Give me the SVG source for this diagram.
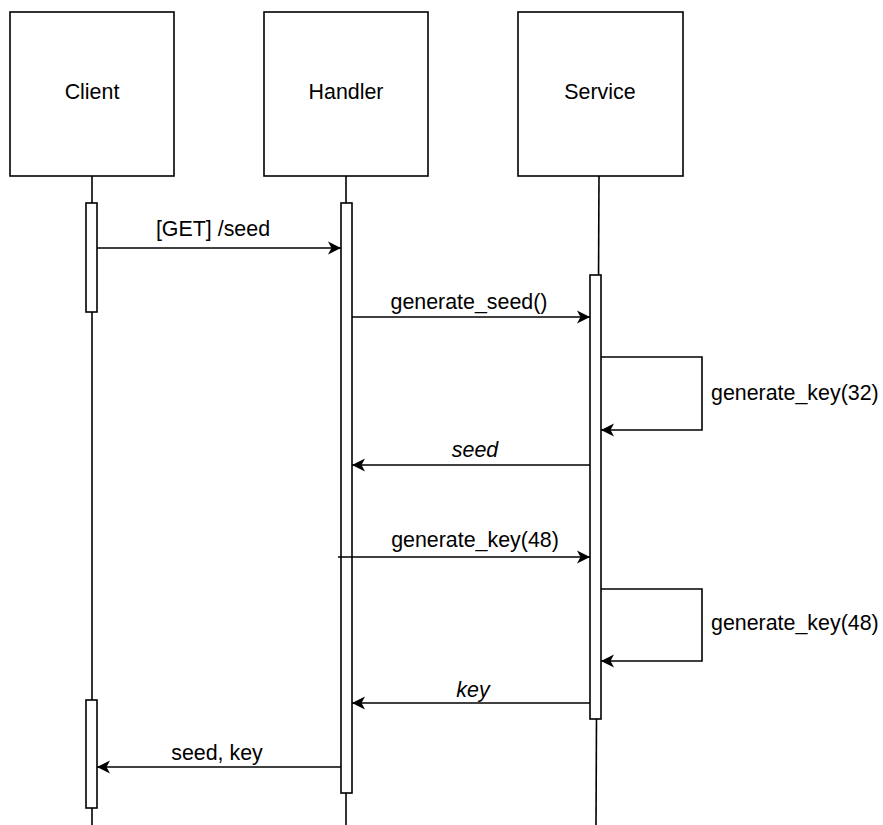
<svg xmlns="http://www.w3.org/2000/svg" width="883" height="825" viewBox="0 0 883 825">
  <style>
    .box { fill: #ffffff; stroke: #000000; stroke-width: 1.6; }
    .act { fill: #ffffff; stroke: #000000; stroke-width: 1.6; }
    .life { fill: none; stroke: #000000; stroke-width: 1.6; }
    .msg { fill: none; stroke: #000000; stroke-width: 1.6; marker-end: url(#arrow); }
    .lbl { font-family: "Liberation Sans", Arial, sans-serif; font-size: 21.4px; fill: #000000; }
    .mid { text-anchor: middle; }
    .it { font-style: italic; }
  </style>
  <defs>
    <marker id="arrow" markerUnits="userSpaceOnUse" markerWidth="16" markerHeight="14" refX="13" refY="7" orient="auto">
      <path d="M0,0.5 L13,7 L0,13.5 L3.5,7 z" fill="#000000"/>
    </marker>
  </defs>
  <rect width="883" height="825" fill="#ffffff"/>

  <!-- lifelines -->
  <g id="lifelines">
    <line class="life" x1="92" y1="176" x2="92" y2="825"/>
    <line class="life" x1="346" y1="176" x2="346" y2="825"/>
    <line class="life" x1="599" y1="176" x2="596" y2="825"/>
  </g>

  <g id="client">
    <rect class="box" x="10" y="12" width="164" height="164"/>
    <text class="lbl mid" x="92" y="99">Client</text>
    <rect class="act" x="86" y="203" width="11" height="109"/>
    <rect class="act" x="86" y="700" width="11" height="108"/>
  </g>

  <g id="handler">
    <rect class="box" x="264" y="12" width="164" height="164"/>
    <text class="lbl mid" x="346" y="99">Handler</text>
    <rect class="act" x="341" y="203" width="11" height="590"/>
  </g>

  <g id="service">
    <rect class="box" x="518" y="12" width="165" height="164"/>
    <text class="lbl mid" x="600" y="99">Service</text>
    <rect class="act" x="590" y="275" width="11" height="444"/>
  </g>

  <!-- messages -->
  <g id="connectors">
    <line class="msg" x1="97" y1="248" x2="341" y2="248"/>
    <line class="msg" x1="352" y1="317" x2="590" y2="317"/>
    <polyline class="msg" points="601,357 702,357 702,430 601,430"/>
    <line class="msg" x1="590" y1="465" x2="352" y2="465"/>
    <line class="msg" x1="338" y1="557" x2="590" y2="557"/>
    <polyline class="msg" points="601,589 702,589 702,661 601,661"/>
    <line class="msg" x1="590" y1="703" x2="352" y2="703"/>
    <line class="msg" x1="341" y1="767" x2="97" y2="767"/>
  </g>

  <g id="labels">
    <text class="lbl mid" x="213" y="236">[GET] /seed</text>
    <text class="lbl mid" x="469" y="309">generate_seed()</text>
    <text class="lbl" x="711" y="400">generate_key(32)</text>
    <text class="lbl mid it" x="475" y="457">seed</text>
    <text class="lbl mid" x="475" y="547">generate_key(48)</text>
    <text class="lbl" x="711" y="630">generate_key(48)</text>
    <text class="lbl mid it" x="473" y="697">key</text>
    <text class="lbl mid" x="217" y="760">seed, key</text>
  </g>
</svg>
